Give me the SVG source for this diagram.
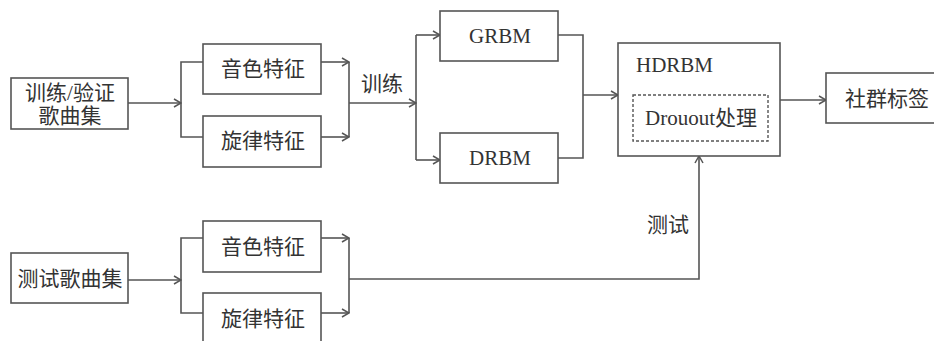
<svg xmlns="http://www.w3.org/2000/svg" width="934" height="341" viewBox="0 0 934 341">
<defs>
<marker id="arr" viewBox="0 0 10 10" refX="9" refY="5" markerWidth="10" markerHeight="10" markerUnits="userSpaceOnUse" orient="auto">
<path d="M2,1 L9,5 L2,9" fill="none" stroke="#555" stroke-width="1.5"/>
</marker>
<style>
.box{fill:#fff;stroke:#555;stroke-width:1.6}
.dash{fill:none;stroke:#555;stroke-width:1.4;stroke-dasharray:3,2}
.ln{fill:none;stroke:#555;stroke-width:1.6}
.t{font-family:"Liberation Serif","Noto Sans CJK SC",serif;font-size:21px;fill:#333;dominant-baseline:central;text-anchor:middle}
.ts{text-anchor:start}
</style>
</defs>
<rect width="934" height="341" fill="#fff"/>
<g id="connectors">
<path class="ln" d="M128,103 H181" marker-end="url(#arr)"/>
<path class="ln" d="M203,62 H181 V137 H203"/>
<path class="ln" d="M321,62 H349" marker-end="url(#arr)"/>
<path class="ln" d="M321,137 H349" marker-end="url(#arr)"/>
<path class="ln" d="M349,62 V137"/>
<path class="ln" d="M349,103 H416" marker-end="url(#arr)"/>
<path class="ln" d="M416,35 V160"/>
<path class="ln" d="M416,35 H440" marker-end="url(#arr)"/>
<path class="ln" d="M416,160 H440" marker-end="url(#arr)"/>
<path class="ln" d="M558,35 H583 V158 H558"/>
<path class="ln" d="M583,95 H618" marker-end="url(#arr)"/>
<path class="ln" d="M780,100 H826" marker-end="url(#arr)"/>
<path class="ln" d="M128,280 H181" marker-end="url(#arr)"/>
<path class="ln" d="M203,238 H181 V313 H203"/>
<path class="ln" d="M321,238 H349" marker-end="url(#arr)"/>
<path class="ln" d="M321,313 H349" marker-end="url(#arr)"/>
<path class="ln" d="M349,238 V313"/>
<path class="ln" d="M349,279 H699 V156" marker-end="url(#arr)"/>
<text class="t" x="382" y="84">训练</text>
<text class="t" x="668" y="225">测试</text>
</g>
<g id="train-set"><rect class="box" x="11" y="78" width="117" height="51"/><text class="t" x="70" y="93">训练/验证</text><text class="t" x="70" y="116">歌曲集</text></g>
<g id="timbre1"><rect class="box" x="203" y="44" width="118" height="50"/><text class="t" x="263" y="69">音色特征</text></g>
<g id="melody1"><rect class="box" x="203" y="116" width="118" height="51"/><text class="t" x="263" y="141">旋律特征</text></g>
<g id="grbm"><rect class="box" x="440" y="11" width="118" height="50"/><text class="t" x="500" y="36">GRBM</text></g>
<g id="drbm"><rect class="box" x="440" y="133" width="118" height="50"/><text class="t" x="500" y="158">DRBM</text></g>
<g id="hdrbm"><rect class="box" x="618" y="43" width="162" height="113"/><text class="t ts" x="636" y="65">HDRBM</text><rect class="dash" x="633" y="95" width="135" height="46"/><text class="t" x="701" y="118">Drouout处理</text></g>
<g id="label"><rect class="box" x="826" y="73" width="130" height="50"/><text class="t ts" x="845" y="99">社群标签</text></g>
<g id="test-set"><rect class="box" x="11" y="253" width="117" height="50"/><text class="t" x="70" y="279">测试歌曲集</text></g>
<g id="timbre2"><rect class="box" x="203" y="221" width="118" height="51"/><text class="t" x="263" y="247">音色特征</text></g>
<g id="melody2"><rect class="box" x="203" y="293" width="118" height="60"/><text class="t" x="263" y="319">旋律特征</text></g>
</svg>
